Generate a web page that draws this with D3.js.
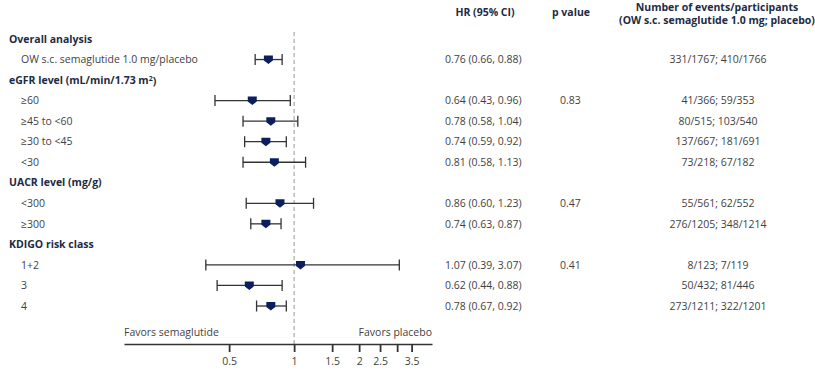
<!DOCTYPE html>
<html>
<head>
<meta charset="utf-8">
<script src="https://cdn.jsdelivr.net/npm/d3@7"></script>
<style>
  body { margin: 0; background: #fff; }
  svg { display: block; font-family: "Open Sans", "Liberation Sans", sans-serif; }
</style>
</head>
<body>
<svg id="chart"></svg>
<script>
const w = 815
const h = 372

// rows top to bottom; headers have no values
const rowLabels = ["Overall analysis", "OW s.c. semaglutide 1.0 mg/placebo", "eGFR level (mL/min/1.73 m²)", "≥60", "≥45 to <60", "≥30 to <45", "<30",
  "UACR level (mg/g)", "<300", "≥300", "KDIGO risk class", "1+2", "3", "4"]
const isHeader = [true, false, true, false, false, false, false, true, false, false, true, false, false, false]
const hrVals = [null, 0.76, null, 0.64, 0.78, 0.74, 0.81, null, 0.86, 0.74, null, 1.07, 0.62, 0.78]
const loVals = [null, 0.66, null, 0.43, 0.58, 0.59, 0.58, null, 0.60, 0.63, null, 0.39, 0.44, 0.67]
const hiVals = [null, 0.88, null, 0.96, 1.04, 0.92, 1.13, null, 1.23, 0.87, null, 3.07, 0.88, 0.92]
const pVals = ["", "", "", "0.83", "", "", "", "", "0.47", "", "", "0.41", "", ""]
const eventsText = ["", "331/1767; 410/1766", "", "41/366; 59/353", "80/515; 103/540", "137/667; 181/691", "73/218; 67/182",
  "", "55/561; 62/552", "276/1205; 348/1214", "", "8/123; 7/119", "50/432; 81/446", "273/1211; 322/1201"]
const tickVals = [0.5, 1, 1.5, 2, 2.5, 3, 3.5]
const tickLabels = ["0.5", "1", "1.5", "2", "2.5", "", "3.5"]

const navy = "#0b1f5e"
const headColor = "#1d2b44"
const bodyColor = "#3f3f3f"

let svg = d3.select("#chart").attr("width", w).attr("height", h)

let xScale = d3.scaleLog().domain([0.163, 4.35]).range([124, 432])
let yScale = d3.scalePoint().domain(d3.range(rowLabels.length)).range([39, 306])
let axisY = 344

// column headers
let hdr = svg.append("g").attr("font-weight", "bold").attr("font-size", 10.5).attr("fill", headColor).attr("text-anchor", "middle")
hdr.append("text").attr("x", 485).attr("y", 12).attr("dy", "0.35em").text("HR (95% CI)")
hdr.append("text").attr("x", 571).attr("y", 12).attr("dy", "0.35em").text("p value")
hdr.append("text").attr("x", 717).attr("y", 7).attr("dy", "0.35em").text("Number of events/participants")
hdr.append("text").attr("x", 717).attr("y", 20).attr("dy", "0.35em").text("(OW s.c. semaglutide 1.0 mg; placebo)")

// reference line at HR = 1
svg.append("line")
  .attr("x1", xScale(1)).attr("x2", xScale(1))
  .attr("y1", 32).attr("y2", axisY)
  .attr("stroke", "#a8a8a8").attr("stroke-width", 1.2).attr("stroke-dasharray", "4,3")

// row labels
svg.selectAll("text.lbl")
  .data(rowLabels)
  .enter()
  .append("text")
  .attr("class", "lbl")
  .attr("x", (d, i) => isHeader[i] ? 9 : 21)
  .attr("y", (d, i) => yScale(i))
  .attr("dy", "0.35em")
  .attr("font-size", 10.5)
  .attr("font-weight", (d, i) => isHeader[i] ? "bold" : "normal")
  .attr("fill", (d, i) => isHeader[i] ? headColor : bodyColor)
  .each(function (d) {
    let t = d3.select(this)
    if (d.endsWith("m²)")) {
      t.append("tspan").text(d.replace("²)", ""))
      t.append("tspan").attr("font-size", 7).attr("dy", "-0.4em").text("2")
      t.append("tspan").attr("font-size", 10.5).attr("dy", "0.4em").text(")")
    } else {
      t.text(d)
    }
  })

let dataRows = d3.range(rowLabels.length).filter(i => !isHeader[i])

// whiskers
let ci = svg.selectAll("g.ci")
  .data(dataRows)
  .enter()
  .append("g")
  .attr("class", "ci")
  .attr("stroke", "#333")
  .attr("stroke-width", 1.3)
ci.append("line")
  .attr("x1", i => xScale(loVals[i])).attr("x2", i => xScale(hiVals[i]))
  .attr("y1", i => yScale(i)).attr("y2", i => yScale(i))
ci.append("line")
  .attr("x1", i => xScale(loVals[i])).attr("x2", i => xScale(loVals[i]))
  .attr("y1", i => yScale(i) - 5.5).attr("y2", i => yScale(i) + 5.5)
ci.append("line")
  .attr("x1", i => xScale(hiVals[i])).attr("x2", i => xScale(hiVals[i]))
  .attr("y1", i => yScale(i) - 5.5).attr("y2", i => yScale(i) + 5.5)

// point estimate markers (shield shape)
svg.selectAll("path.mk")
  .data(dataRows)
  .enter()
  .append("path")
  .attr("class", "mk")
  .attr("transform", i => "translate(" + xScale(hrVals[i]) + "," + yScale(i) + ")")
  .attr("d", "M-4.5,-4 L4.5,-4 L4.5,1 L0,4.5 L-4.5,1 Z")
  .attr("fill", navy)

// right-hand columns
let fmt = d3.format(".2f")
svg.selectAll("text.hr")
  .data(dataRows)
  .enter()
  .append("text")
  .attr("class", "hr")
  .attr("x", 445)
  .attr("y", i => yScale(i))
  .attr("dy", "0.35em")
  .attr("font-size", 10.5)
  .attr("fill", bodyColor)
  .text(i => `${fmt(hrVals[i])} (${fmt(loVals[i])}, ${fmt(hiVals[i])})`)

svg.selectAll("text.pv")
  .data(dataRows.filter(i => pVals[i] !== ""))
  .enter()
  .append("text")
  .attr("class", "pv")
  .attr("x", 560)
  .attr("y", i => yScale(i))
  .attr("dy", "0.35em")
  .attr("font-size", 10.5)
  .attr("fill", bodyColor)
  .text(i => pVals[i])

svg.selectAll("text.ev")
  .data(dataRows)
  .enter()
  .append("text")
  .attr("class", "ev")
  .attr("x", 718)
  .attr("y", i => yScale(i))
  .attr("dy", "0.35em")
  .attr("text-anchor", "middle")
  .attr("font-size", 10.5)
  .attr("fill", bodyColor)
  .text(i => eventsText[i])

// x axis
let xAxis = d3.axisBottom(xScale)
  .tickValues(tickVals)
  .tickFormat((d, i) => tickLabels[i])
  .tickSize(8)
  .tickPadding(6)
  .tickSizeOuter(0)

let ax = svg.append("g")
  .attr("transform", "translate(0," + axisY + ")")
  .call(xAxis)
ax.select(".domain").attr("stroke", "#333").attr("stroke-width", 1.3)
ax.selectAll(".tick line").attr("stroke", "#333").attr("stroke-width", 1.8)
ax.selectAll(".tick text").attr("font-size", 10.5).attr("fill", bodyColor).attr("font-family", "Open Sans, Liberation Sans, sans-serif")

svg.append("text").attr("x", 124).attr("y", 336).attr("font-size", 10.5).attr("fill", bodyColor).text("Favors semaglutide")
svg.append("text").attr("x", 432).attr("y", 336).attr("text-anchor", "end").attr("font-size", 10.5).attr("fill", bodyColor).text("Favors placebo")
</script>
</body>
</html>
